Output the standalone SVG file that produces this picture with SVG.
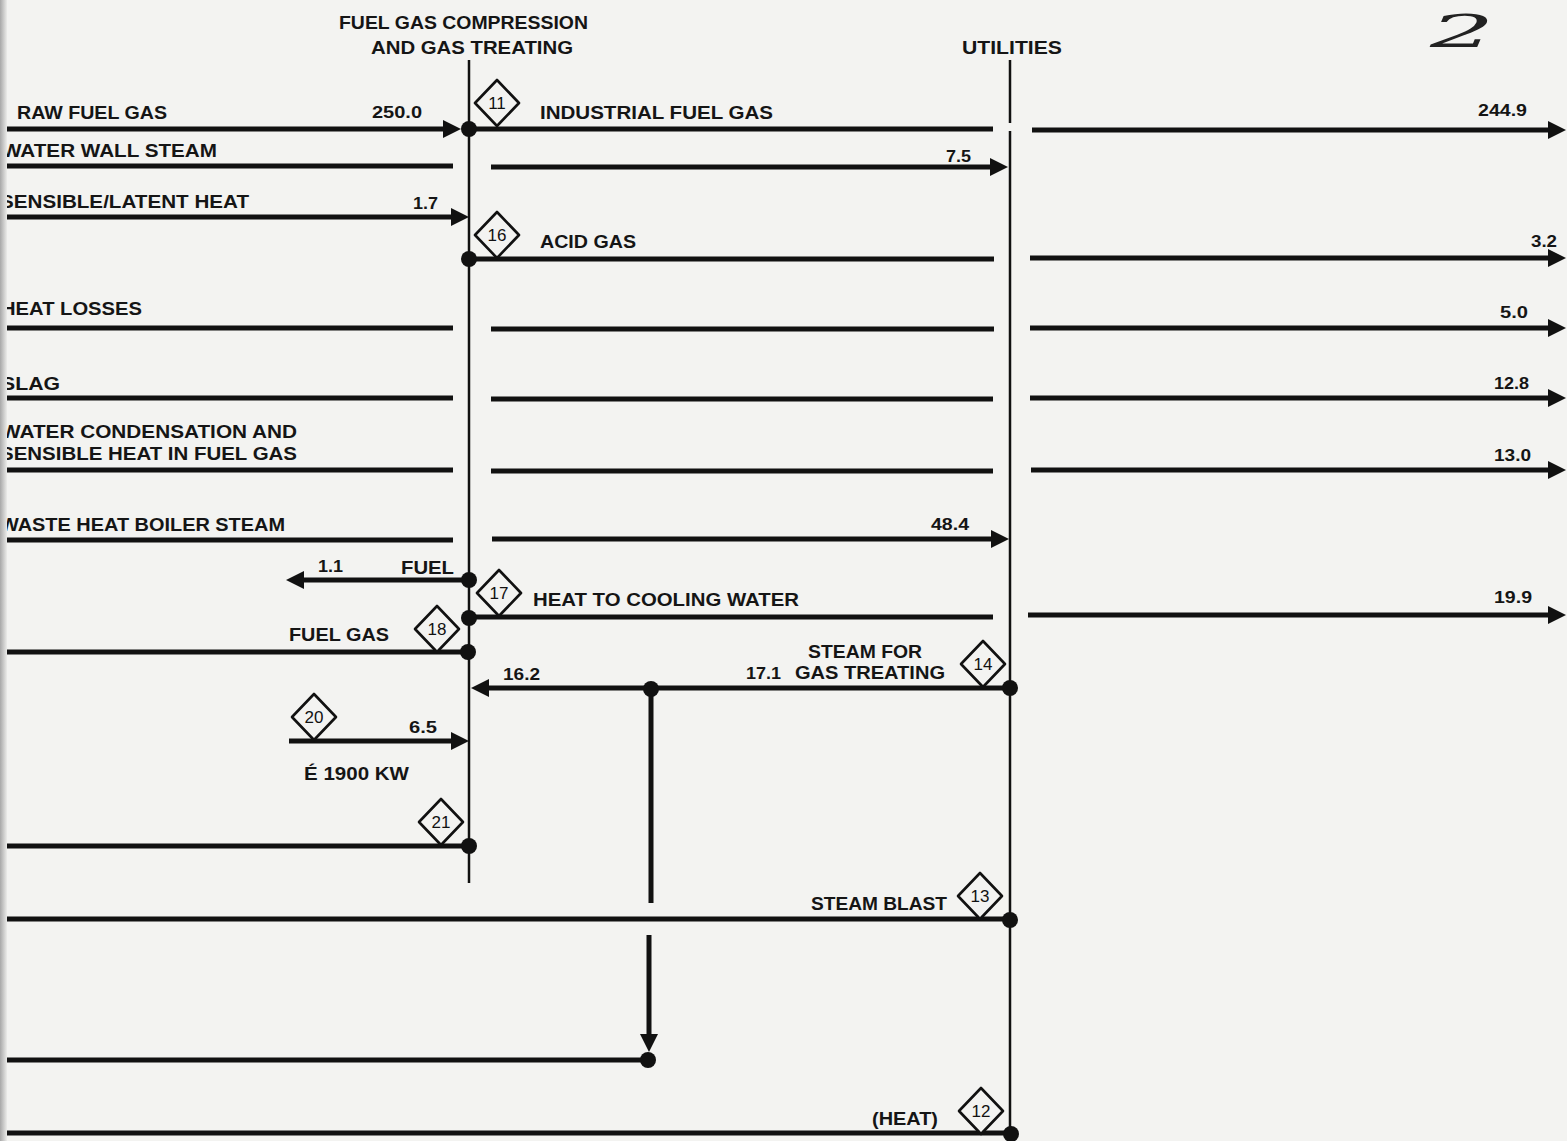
<svg xmlns="http://www.w3.org/2000/svg" width="1567" height="1141" viewBox="0 0 1567 1141">
<defs>
<style>
.t{font-family:"Liberation Sans",Arial,sans-serif;font-weight:bold;font-size:18px;fill:#151515}
.n{font-family:"Liberation Sans",Arial,sans-serif;font-weight:bold;font-size:16px;fill:#151515}
.d{font-family:"Liberation Sans",Arial,sans-serif;font-weight:normal;font-size:17px;fill:#111;text-anchor:middle}
.th{fill:none;stroke:#111;stroke-width:5}
.tn{fill:none;stroke:#111;stroke-width:2.5}
.ar{marker-end:url(#ah)}
.dot{fill:#111}
.dia{fill:#f3f3f1;stroke:#111;stroke-width:2.6;stroke-linejoin:round}
</style>
<marker id="ah" markerUnits="userSpaceOnUse" markerWidth="20" markerHeight="20" refX="10" refY="9" orient="auto" viewBox="0 0 20 20">
<path d="M0,0 L18,9 L0,18 Z" fill="#111"/>
</marker>
<linearGradient id="edge" x1="0" y1="0" x2="1" y2="0">
<stop offset="0" stop-color="#a8a8a8"/>
<stop offset="1" stop-color="#ececea"/>
</linearGradient>
</defs>
<rect x="0" y="0" width="1567" height="1141" fill="#f3f3f1"/>

<g id="connectors">
<path class="tn" d="M469,60 V883"/>
<path class="tn" d="M1010,60 V123 M1010,131 V1135"/>
<path class="th ar" d="M7,129 H453"/>
<path class="th" d="M469,129 H993"/>
<path class="th ar" d="M1032,130 H1558"/>
<path class="th" d="M7,166 H453"/>
<path class="th ar" d="M491,167 H1000"/>
<path class="th ar" d="M7,217 H461"/>
<path class="th" d="M469,259 H994"/>
<path class="th ar" d="M1030,258 H1558"/>
<path class="th" d="M7,328 H453"/>
<path class="th" d="M491,329 H994"/>
<path class="th ar" d="M1030,328 H1558"/>
<path class="th" d="M7,398 H453"/>
<path class="th" d="M491,399 H993"/>
<path class="th ar" d="M1030,398 H1558"/>
<path class="th" d="M7,470 H453"/>
<path class="th" d="M491,471 H993"/>
<path class="th ar" d="M1031,470 H1558"/>
<path class="th" d="M7,540 H453"/>
<path class="th ar" d="M492,539 H1001"/>
<path class="th ar" d="M469,580 H294"/>
<path class="th" d="M469,617 H993"/>
<path class="th ar" d="M1028,615 H1558"/>
<path class="th" d="M7,652 H468"/>
<path class="th ar" d="M1010,688 H479"/>
<path class="th" d="M651,689 V903"/>
<path class="th ar" d="M649,935 V1044"/>
<path class="th" d="M7,1060 H648"/>
<path class="th ar" d="M289,741 H461"/>
<path class="th" d="M7,846 H469"/>
<path class="th" d="M7,919 H1010"/>
<path class="th" d="M7,1133 H1010"/>
<circle class="dot" cx="469" cy="129" r="8"/>
<circle class="dot" cx="469" cy="259" r="8"/>
<circle class="dot" cx="469" cy="580" r="8"/>
<circle class="dot" cx="469" cy="618" r="8"/>
<circle class="dot" cx="468" cy="652" r="8"/>
<circle class="dot" cx="651" cy="689" r="8"/>
<circle class="dot" cx="1010" cy="688" r="8"/>
<circle class="dot" cx="469" cy="846" r="8"/>
<circle class="dot" cx="1010" cy="920" r="8"/>
<circle class="dot" cx="648" cy="1060" r="8"/>
<circle class="dot" cx="1011" cy="1134" r="8"/>
</g>

<g id="labels">
<text class="t" x="339" y="29" textLength="249" lengthAdjust="spacingAndGlyphs">FUEL GAS COMPRESSION</text>
<text class="t" x="371" y="54" textLength="202" lengthAdjust="spacingAndGlyphs">AND GAS TREATING</text>
<text class="t" x="962" y="54" textLength="100" lengthAdjust="spacingAndGlyphs">UTILITIES</text>
<text class="t" x="17" y="119" textLength="150" lengthAdjust="spacingAndGlyphs">RAW FUEL GAS</text>
<text class="n" x="372" y="118" textLength="50" lengthAdjust="spacingAndGlyphs">250.0</text>
<text class="t" x="540" y="119" textLength="233" lengthAdjust="spacingAndGlyphs">INDUSTRIAL FUEL GAS</text>
<text class="n" x="1478" y="116" textLength="49" lengthAdjust="spacingAndGlyphs">244.9</text>
<text class="t" x="2" y="157" textLength="215" lengthAdjust="spacingAndGlyphs">WATER WALL STEAM</text>
<text class="n" x="946" y="162" textLength="25" lengthAdjust="spacingAndGlyphs">7.5</text>
<text class="t" x="0" y="208" textLength="249" lengthAdjust="spacingAndGlyphs">SENSIBLE/LATENT HEAT</text>
<text class="n" x="413" y="209" textLength="25" lengthAdjust="spacingAndGlyphs">1.7</text>
<text class="t" x="540" y="248" textLength="96" lengthAdjust="spacingAndGlyphs">ACID GAS</text>
<text class="n" x="1531" y="247" textLength="26" lengthAdjust="spacingAndGlyphs">3.2</text>
<text class="t" x="1" y="315" textLength="141" lengthAdjust="spacingAndGlyphs">HEAT LOSSES</text>
<text class="n" x="1500" y="318" textLength="28" lengthAdjust="spacingAndGlyphs">5.0</text>
<text class="t" x="1" y="390" textLength="59" lengthAdjust="spacingAndGlyphs">SLAG</text>
<text class="n" x="1494" y="389" textLength="35" lengthAdjust="spacingAndGlyphs">12.8</text>
<text class="t" x="1" y="438" textLength="296" lengthAdjust="spacingAndGlyphs">WATER CONDENSATION AND</text>
<text class="t" x="0" y="460" textLength="297" lengthAdjust="spacingAndGlyphs">SENSIBLE HEAT IN FUEL GAS</text>
<text class="n" x="1494" y="461" textLength="37" lengthAdjust="spacingAndGlyphs">13.0</text>
<text class="t" x="0" y="531" textLength="285" lengthAdjust="spacingAndGlyphs">WASTE HEAT BOILER STEAM</text>
<text class="n" x="931" y="530" textLength="38" lengthAdjust="spacingAndGlyphs">48.4</text>
<text class="n" x="318" y="572" textLength="25" lengthAdjust="spacingAndGlyphs">1.1</text>
<text class="t" x="401" y="574" textLength="53" lengthAdjust="spacingAndGlyphs">FUEL</text>
<text class="t" x="533" y="606" textLength="266" lengthAdjust="spacingAndGlyphs">HEAT TO COOLING WATER</text>
<text class="n" x="1494" y="603" textLength="38" lengthAdjust="spacingAndGlyphs">19.9</text>
<text class="t" x="289" y="641" textLength="100" lengthAdjust="spacingAndGlyphs">FUEL GAS</text>
<text class="t" x="808" y="658" textLength="114" lengthAdjust="spacingAndGlyphs">STEAM FOR</text>
<text class="n" x="746" y="679" textLength="35" lengthAdjust="spacingAndGlyphs">17.1</text>
<text class="t" x="795" y="679" textLength="150" lengthAdjust="spacingAndGlyphs">GAS TREATING</text>
<text class="n" x="503" y="680" textLength="37" lengthAdjust="spacingAndGlyphs">16.2</text>
<text class="n" x="409" y="733" textLength="28" lengthAdjust="spacingAndGlyphs">6.5</text>
<text class="t" x="304" y="780" textLength="105" lengthAdjust="spacingAndGlyphs">É  1900 KW</text>
<text class="t" x="811" y="910" textLength="136" lengthAdjust="spacingAndGlyphs">STEAM BLAST</text>
<text class="t" x="872" y="1125" textLength="66" lengthAdjust="spacingAndGlyphs">(HEAT)</text>
<text x="1430" y="47" transform="translate(1430,47) scale(2.3,1) translate(-1430,-47)" style="font-family:'DejaVu Serif',serif;font-style:italic;font-size:44px;fill:#222">2</text>
</g>

<g id="n11"><path class="dia" d="M497,80 L519,103 L497,126 L475,103 Z"/><text class="d" x="497" y="109">11</text></g>
<g id="n16"><path class="dia" d="M497,212 L519,235 L497,258 L475,235 Z"/><text class="d" x="497" y="241">16</text></g>
<g id="n17"><path class="dia" d="M499,570 L521,593 L499,616 L477,593 Z"/><text class="d" x="499" y="599">17</text></g>
<g id="n18"><path class="dia" d="M437,606 L459,629 L437,652 L415,629 Z"/><text class="d" x="437" y="635">18</text></g>
<g id="n14"><path class="dia" d="M983,641 L1005,664 L983,687 L961,664 Z"/><text class="d" x="983" y="670">14</text></g>
<g id="n20"><path class="dia" d="M314,694 L336,717 L314,740 L292,717 Z"/><text class="d" x="314" y="723">20</text></g>
<g id="n21"><path class="dia" d="M441,799 L463,822 L441,845 L419,822 Z"/><text class="d" x="441" y="828">21</text></g>
<g id="n13"><path class="dia" d="M980,873 L1002,896 L980,919 L958,896 Z"/><text class="d" x="980" y="902">13</text></g>
<g id="n12"><path class="dia" d="M981,1088 L1003,1111 L981,1134 L959,1111 Z"/><text class="d" x="981" y="1117">12</text></g>

<rect x="0" y="0" width="7" height="1141" fill="url(#edge)"/>
</svg>
